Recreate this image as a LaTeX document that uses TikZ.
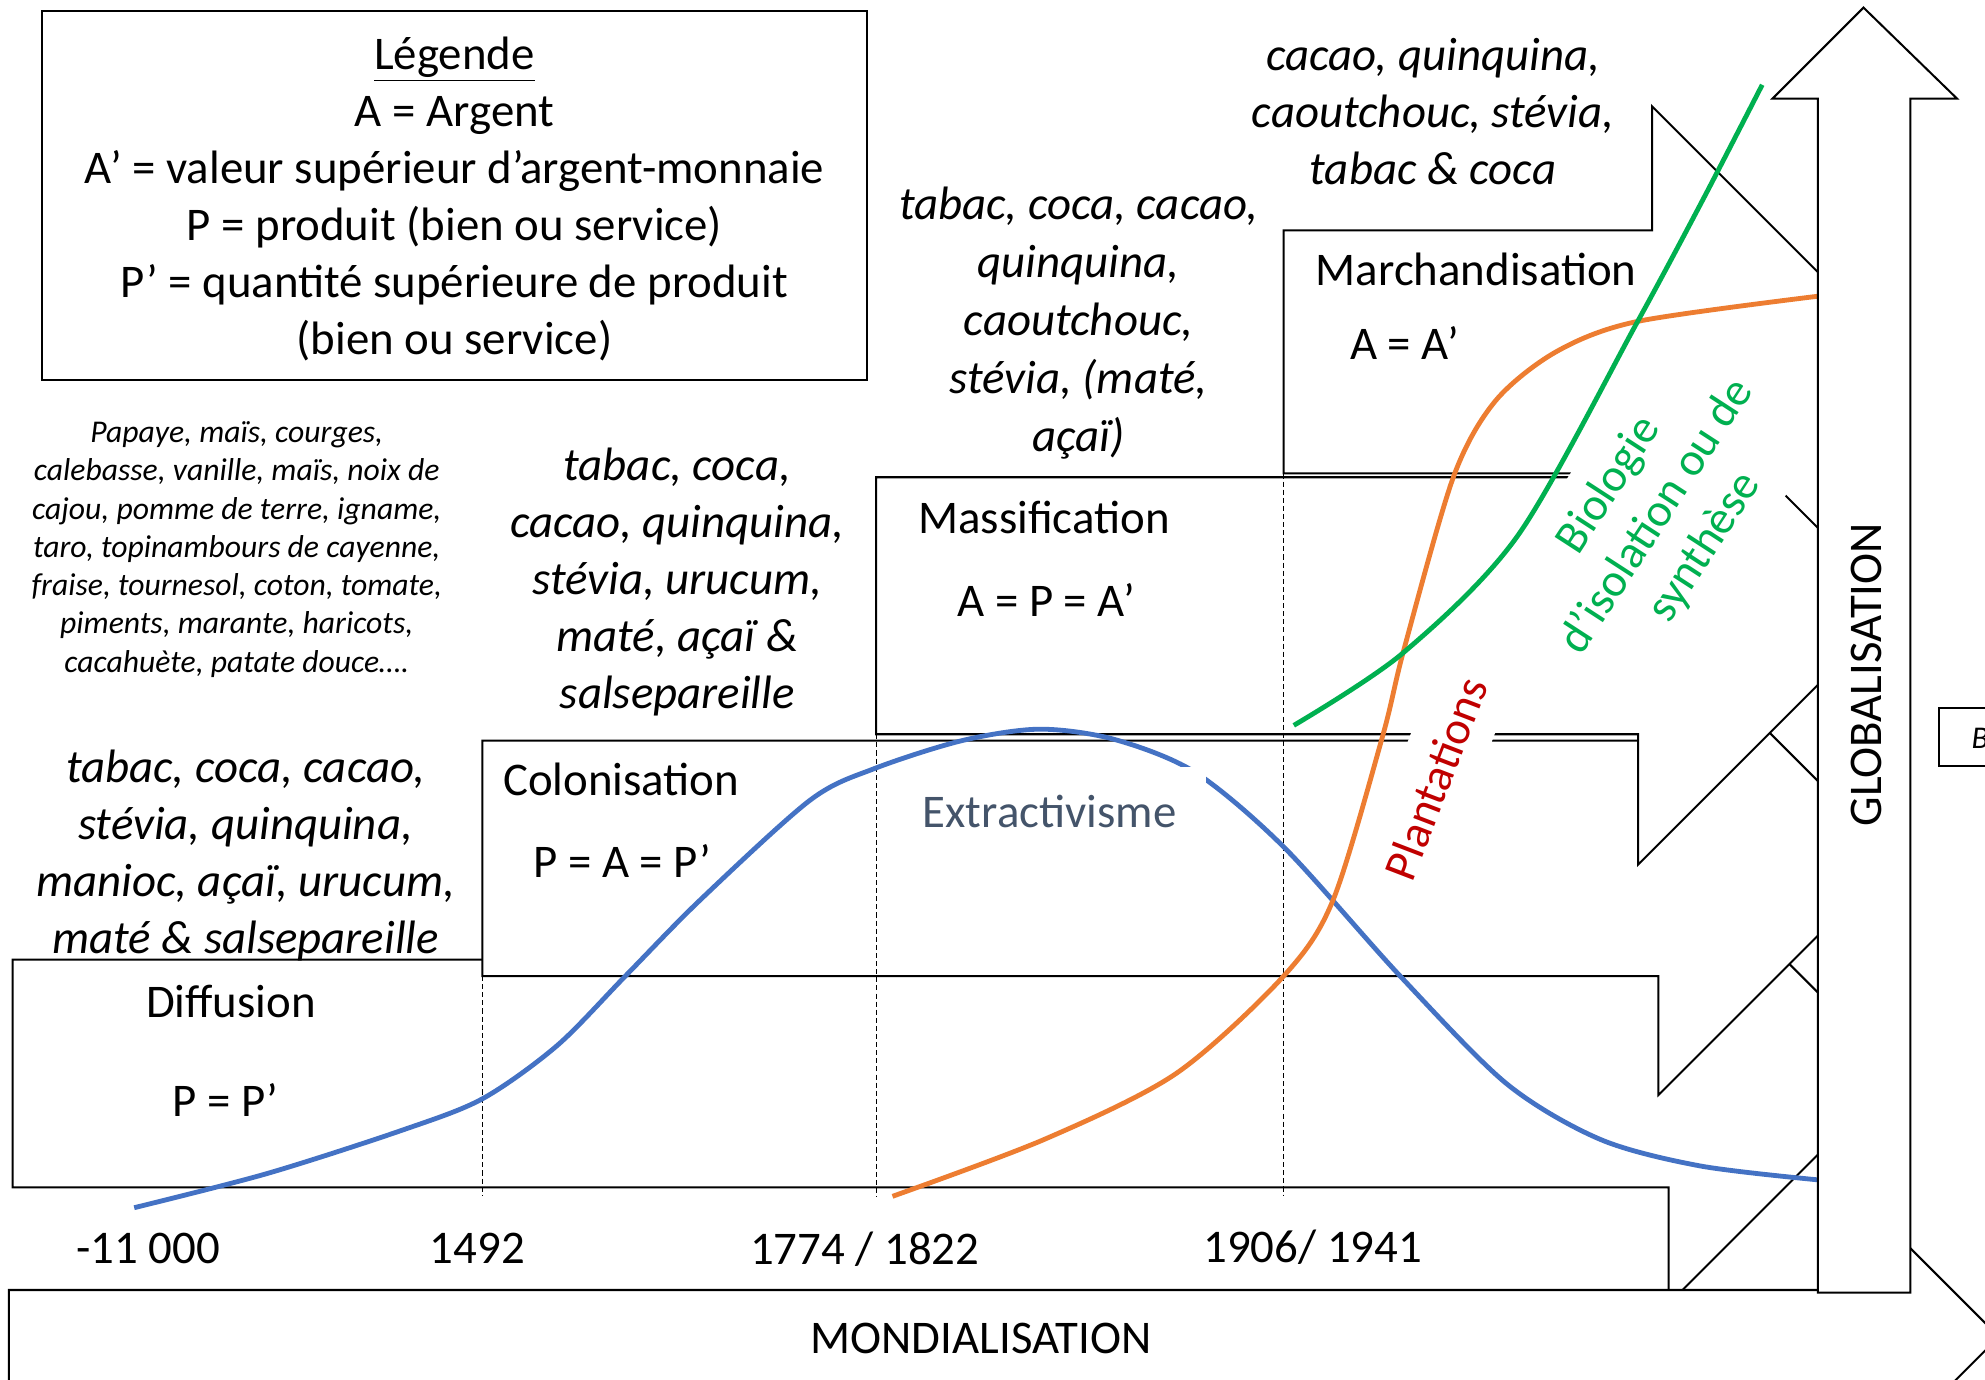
\documentclass[tikz,border=0pt]{standalone}
\usepackage{fontspec}
\setmainfont{Carlito}
\definecolor{bleuextr}{HTML}{4472C4}
\definecolor{orangeplant}{HTML}{ED7D31}
\definecolor{vertbio}{HTML}{00B050}
\definecolor{rougeplant}{HTML}{C00000}
\definecolor{grisextr}{HTML}{44546A}
\begin{document}
\begin{tikzpicture}[x=0.5pt,y=-0.5pt,
  etape/.style={draw=black,fill=white,line width=0.8pt},
  jalon/.style={draw=black,line width=0.4pt,dash pattern=on 2pt off 1.2pt},
  courbe/.style={line width=1.9pt},
  cache/.style={fill=white,inner sep=0pt},
  texte/.style={inner sep=0pt,font=\fontsize{18.5}{22.5}\selectfont},
  titre/.style={texte,anchor=west},
  liste/.style={inner sep=0pt,align=center,font=\itshape\fontsize{18.5}{22.5}\selectfont},
  petiteliste/.style={inner sep=0pt,align=center,font=\itshape\fontsize{12.5}{15.1}\selectfont}]
\useasboundingbox (0,0) rectangle (1568,1090);
\clip (0,0) rectangle (1568,1090);
\draw[etape] (10,758) -- (1318,758) -- (1318,666) -- (1500,848) -- (1318,1030) -- (1318,938) -- (10,938) -- cycle;
\draw[etape] (381,585) -- (1310,585) -- (1310,491) -- (1497,678) -- (1310,865) -- (1310,771) -- (381,771) -- cycle;
\draw[etape] (692,377) -- (1294,377) -- (1294,275) -- (1498,479) -- (1294,683) -- (1294,580) -- (692,580) -- cycle;
\draw[etape] (1014,182) -- (1305,182) -- (1305,84) -- (1499,278) -- (1305,472) -- (1305,374) -- (1014,374) -- cycle;
\draw[etape] (7,1019) -- (1470,1019) -- (1470,947) -- (1579,1056) -- (1470,1165) -- (1470,1093) -- (7,1093) -- cycle;
\draw[jalon] (381,771) -- (381,945);
\draw[jalon] (692,580) -- (692,945);
\draw[jalon] (1014,374) -- (1014,945);
\draw[courbe,bleuextr] plot[smooth] coordinates {(106,954) (211,927) (317,893) (381,868) (440,826) (494,771) (553,711) (640,632) (691,607) (760,585) (821,576) (880,584) (944,610) (1014,669) (1106,771) (1190,856) (1264,900) (1343,921) (1436,932)};
\node[cache,minimum width=124pt,minimum height=35pt,text=grisextr,font=\fontsize{18.5}{22.5}\selectfont] (extractivisme) at (829,641) {Extractivisme};
\node[cache,rotate=69,minimum height=31pt,inner xsep=4pt,text=rougeplant,font=\fontsize{18.5}{22.5}\selectfont] (plantations) at (1134,615) {Plantations};
\node[cache,rotate=57,align=center,minimum width=136pt,minimum height=76pt,text=vertbio,font=\fontsize{18.5}{22.5}\selectfont] (biologie) at (1309,408) {Biologie\\d’isolation ou de\\synthèse};
\draw[courbe,orangeplant] plot[smooth] coordinates {(705,945) (825,900) (929,848) (1014,771) (1053,711) (1092,582) (1109,513) (1148,377) (1181,317) (1229,278) (1293,254) (1436,234)};
\draw[courbe,vertbio] plot[smooth] coordinates {(1022,573) (1108,516) (1199,423) (1293,255) (1345,158) (1392,67)};
\draw[etape] (1436,1021) -- (1436,78) -- (1400,78) -- (1472,6) -- (1546,78) -- (1509,78) -- (1509,1021) -- cycle;
\node[texte,rotate=90] (globalisation) at (1474,533) {GLOBALISATION};
\node[texte] (mondialisation) at (775,1057) {MONDIALISATION};
\node[etape,minimum width=326pt,minimum height=145.5pt] (cadre) at (359,154.5) {};
\node[texte,align=center] (legende) at (359,157) {\underline{Légende}\\A = Argent\\A’ = valeur supérieur d’argent-monnaie\\P = produit (bien ou service)\\P’ = quantité supérieure de produit\\(bien ou service)};
\node[petiteliste] (cultures) at (187,434) {Papaye, maïs, courges,\\calebasse, vanille, maïs, noix de\\cajou, pomme de terre, igname,\\taro, topinambours de cayenne,\\fraise, tournesol, coton, tomate,\\piments, marante, haricots,\\cacahuète, patate douce….};
\node[liste] (produitsdiff) at (194,676) {tabac, coca, cacao,\\stévia, quinquina,\\manioc, açaï, urucum,\\maté \& salsepareille};
\node[liste] (produitscolo) at (535,460) {tabac, coca,\\cacao, quinquina,\\stévia, urucum,\\maté, açaï \&\\salsepareille};
\node[liste,font=\itshape\fontsize{18.5}{22.9}\selectfont] (produitsmass) at (852,255) {tabac, coca, cacao,\\quinquina,\\caoutchouc,\\stévia, (maté,\\açaï)};
\node[liste] (produitsmarch) at (1132,88) {cacao, quinquina,\\caoutchouc, stévia,\\tabac \& coca};
\node[titre] (diffusion) at (115,791) {Diffusion};
\node[titre] (eqdiff) at (136,869) {P = P’};
\node[titre] (colonisation) at (397,616) {Colonisation};
\node[titre] (eqcolo) at (421,680) {P = A = P’};
\node[titre] (massification) at (725,409) {Massification};
\node[titre] (eqmass) at (756,474) {A = P = A’};
\node[titre] (marchandisation) at (1039,213) {Marchandisation};
\node[titre] (eqmarch) at (1066,271) {A = A’};
\node[texte] (a11000) at (117,986) {-11 000};
\node[texte] (a1492) at (377,986) {1492};
\node[texte] (a1774) at (683,987) {1774 / 1822};
\node[texte] (a1906) at (1037,985) {1906/ 1941};
\draw[etape] (1532,559) rectangle (1600,605);
\node[anchor=west,inner sep=0pt,font=\itshape\fontsize{12.5}{15}\selectfont] (b) at (1557,583) {B};
\end{tikzpicture}
\end{document}
